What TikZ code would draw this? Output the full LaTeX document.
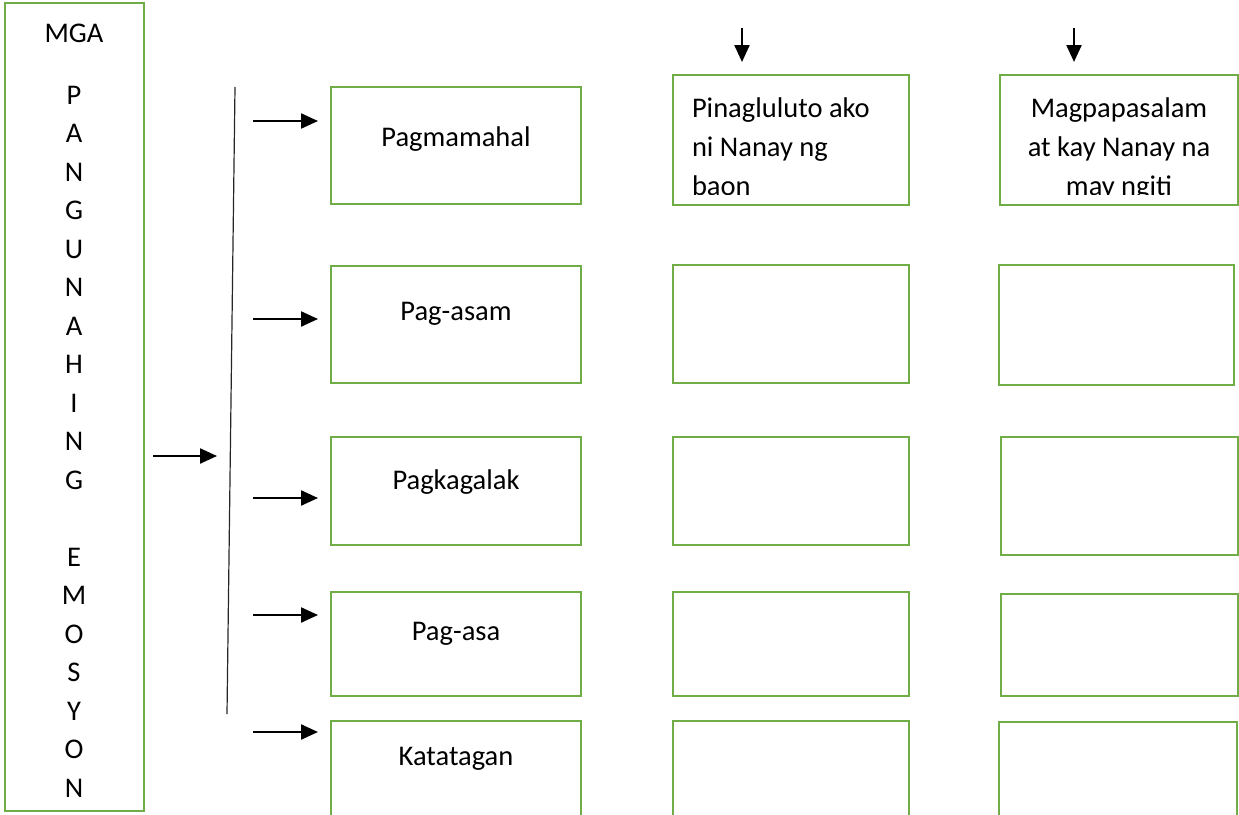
\documentclass[tikz,border=0pt]{standalone}
\usepackage{fontspec}
\setmainfont{Carlito}
\usetikzlibrary{arrows.meta}
\definecolor{boxgreen}{HTML}{70AD47}
\begin{document}
\begin{tikzpicture}[x=1pt,y=-1pt,
  gbox/.style={draw=boxgreen, line width=2.8pt, inner sep=0pt, outer sep=0pt, anchor=north west},
  lbl/.style={font=\fontsize{28.5}{34}\selectfont, inner sep=0pt, outer sep=0pt},
  arr/.style={line width=2.3pt, -{Triangle[length=17pt,width=15pt]}},
  thinline/.style={line width=1.2pt, draw=black!85}]
\useasboundingbox (0,0) rectangle (1239,814);
\clip (0,0) rectangle (1239,814);
% left tall box
\node[gbox, minimum width=139pt, minimum height=808pt] (lbox) at (5,3) {};
\node[lbl, anchor=base] (mga) at (74,42) {MGA};
\foreach \ch [count=\i] in {P,A,N,G,U,N,A,H,I,N,G,{},E,M,O,S,Y,O,N}
  \node[lbl, anchor=base] (v\i) at (74,{104+38.5*(\i-1)}) {\ch};
% column 1
\node[gbox, minimum width=250pt, minimum height=117pt] (c1r1) at (331,87) {};
\node[gbox, minimum width=250pt, minimum height=117pt] (c1r2) at (331,266) {};
\node[gbox, minimum width=250pt, minimum height=108pt] (c1r3) at (331,437) {};
\node[gbox, minimum width=250pt, minimum height=104pt] (c1r4) at (331,592) {};
\node[gbox, minimum width=250pt, minimum height=130pt] (c1r5) at (331,721) {};
\node[lbl] (t1) at (456,139) {Pagmamahal};
\node[lbl] (t2) at (456,314) {Pag-asam};
\node[lbl] (t3) at (456,482) {Pagkagalak};
\node[lbl] (t4) at (456,634) {Pag-asa};
\node[lbl] (t5) at (456,759) {Katatagan};
% column 2
\node[gbox, minimum width=236pt, minimum height=130pt] (c2r1) at (673,75) {};
\node[gbox, minimum width=236pt, minimum height=118pt] (c2r2) at (673,265) {};
\node[gbox, minimum width=236pt, minimum height=108pt] (c2r3) at (673,437) {};
\node[gbox, minimum width=236pt, minimum height=104pt] (c2r4) at (673,592) {};
\node[gbox, minimum width=236pt, minimum height=130pt] (c2r5) at (673,721) {};
% column 3
\node[gbox, minimum width=238pt, minimum height=130pt] (c3r1) at (1000,75) {};
\node[gbox, minimum width=235pt, minimum height=120pt] (c3r2) at (999,265) {};
\node[gbox, minimum width=237pt, minimum height=118pt] (c3r3) at (1001,437) {};
\node[gbox, minimum width=237pt, minimum height=102pt] (c3r4) at (1001,594) {};
\node[gbox, minimum width=238pt, minimum height=130pt] (c3r5) at (999,722) {};
% clipped texts in first row
\begin{scope}
  \clip (673,75) rectangle (909,194);
  \node[lbl, anchor=base west] (p1) at (692,117) {Pinagluluto ako};
  \node[lbl, anchor=base west] (p2) at (692,156) {ni Nanay ng};
  \node[lbl, anchor=base west] (p3) at (692,195) {baon};
\end{scope}
\begin{scope}
  \clip (1000,75) rectangle (1238,194);
  \node[lbl, anchor=base] (m1) at (1119,117) {Magpapasalam};
  \node[lbl, anchor=base] (m2) at (1119,156) {at kay Nanay na};
  \node[lbl, anchor=base] (m3) at (1119,195) {may ngiti};
\end{scope}
% vertical bracket line
\coordinate (vt) at (235,87);
\coordinate (vb) at (227,714);
\draw[thinline] (vt) -- (vb);
% main arrow
\coordinate (ms) at (153,456);
\coordinate (me) at (217,456);
\draw[arr] (ms) -- (me);
% arrows into column 1
\foreach \r/\y in {1/121,2/319,3/498,4/615,5/732}{
  \coordinate (s\r) at (253,\y);
  \draw[arr, shorten >=13pt] (s\r) -- (s\r -| c1r\r.west);
}
% down arrows
\coordinate (d2) at (742,28);
\coordinate (d3) at (1074,28);
\draw[arr, shorten >=13pt] (d2) -- (d2 |- c2r1.north);
\draw[arr, shorten >=13pt] (d3) -- (d3 |- c3r1.north);
\end{tikzpicture}
\end{document}
